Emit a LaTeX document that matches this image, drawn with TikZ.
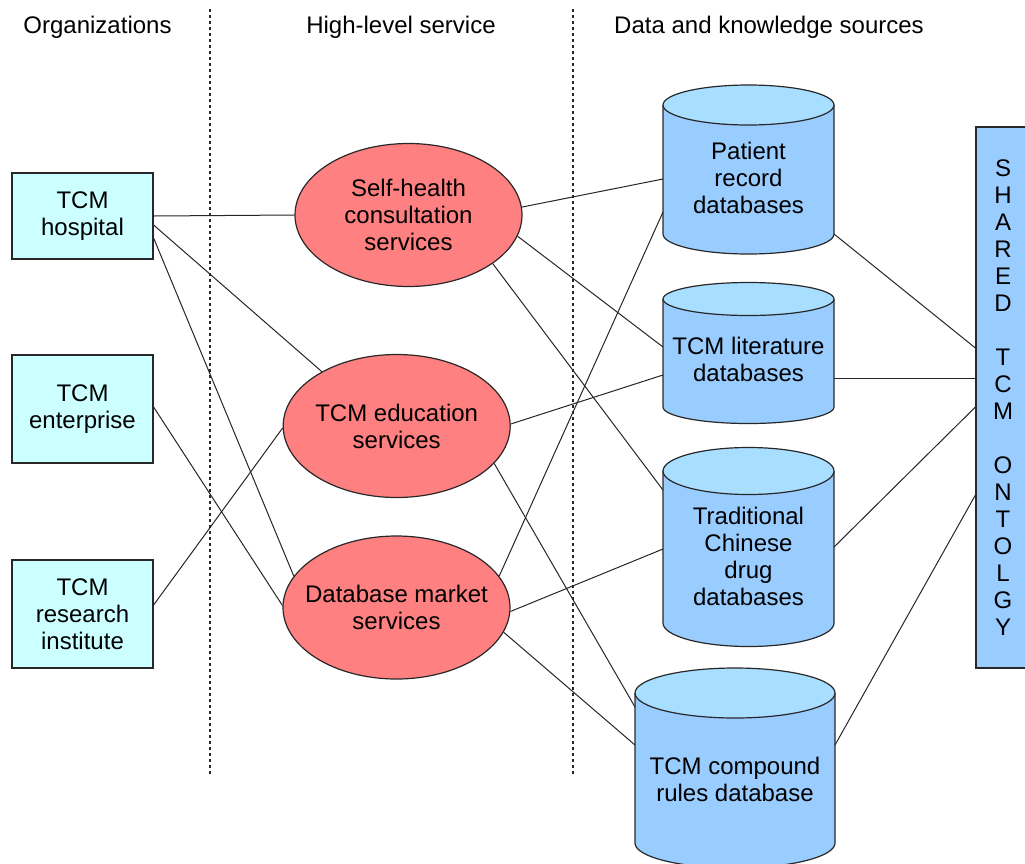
\documentclass[tikz,border=0pt]{standalone}
\usepackage{fontspec}
\setmainfont{Liberation Sans}
\usetikzlibrary{calc,shapes.geometric}
\definecolor{orgfill}{RGB}{204,255,255}
\definecolor{svcfill}{RGB}{255,128,128}
\definecolor{dbfill}{RGB}{153,204,255}
\definecolor{dbtop}{RGB}{168,222,255}
\definecolor{edgecol}{RGB}{40,40,40}
\newcommand\dbcyl[3]{%
  \path[fill=dbfill] (#1.north west) -- (#1.south west) arc[start angle=180,end angle=360,x radius=#2,y radius=#3] -- (#1.north east) -- cycle;
  \draw[dbline] (#1.north west) -- (#1.south west) arc[start angle=180,end angle=360,x radius=#2,y radius=#3] -- (#1.north east);
  \draw[dbline,fill=dbtop] (#1.north) ellipse [x radius=#2,y radius=#3];
}
\tikzset{
  txt/.style={font=\fontsize{24}{27}\selectfont, text=black, align=center},
  orgbox/.style={txt, rectangle, draw=edgecol, line width=1.2pt, fill=orgfill, minimum width=141, inner sep=0pt},
  svc/.style={txt, ellipse, draw=edgecol, line width=1.2pt, fill=svcfill, minimum width=227, minimum height=143, inner sep=-25pt},
  dbshape/.style={rectangle, draw=none, inner sep=0pt, outer sep=0pt},
  dbline/.style={draw=edgecol, line width=1.2pt},
  dbtext/.style={txt, inner sep=0pt},
  onto/.style={txt, rectangle, draw=edgecol, line width=1.2pt, fill=dbfill, minimum width=54, minimum height=541, inner sep=0pt},
  hdr/.style={txt, inner sep=0pt},
  link/.style={draw=black!85, line width=1pt},
  divider/.style={draw=edgecol, line width=1.2pt, dash pattern=on 2.5pt off 3.5pt}
}
\begin{document}
\begin{tikzpicture}[x=1pt,y=1pt]
\useasboundingbox (0,0) rectangle (1025,-863);
\clip (0,0) rectangle (1025,-863);

% headers
\node[hdr] (h1) at (97.5,-27) {Organizations};
\node[hdr] (h2) at (401,-27) {High-level service};
\node[hdr] (h3) at (769,-27) {Data and knowledge sources};

% dividers
\draw[divider] (210,-9) -- (210,-775);
\draw[divider] (573,-9) -- (573,-775);

% organizations
\node[orgbox, minimum height=86] (hosp) at (82.5,-216) {TCM\\hospital};
\node[orgbox, minimum height=108] (ent) at (82.5,-409) {TCM\\enterprise};
\node[orgbox, minimum height=108] (res) at (82.5,-614) {TCM\\research\\institute};

% services
\node[svc] (self) at (408.5,-215) {Self-health\\consultation\\services};
\node[svc] (edu) at (396.7,-426) {TCM education\\services};
\node[svc] (mkt) at (396.5,-607.5) {Database market\\services};

% databases
\node[dbshape, minimum width=171, minimum height=129] (pat) at (748.5,-169.5) {};
\dbcyl{pat}{85.5}{20}
\node[dbtext] (pat-t) at (748.5,-177.5) {Patient\\record\\databases};

\node[dbshape, minimum width=171, minimum height=108] (lit) at (748.5,-353) {};
\dbcyl{lit}{85.5}{16.5}
\node[dbtext] (lit-t) at (748.5,-359.5) {TCM literature\\databases};

\node[dbshape, minimum width=171, minimum height=152] (trad) at (748.5,-547) {};
\dbcyl{trad}{85.5}{23.5}
\node[dbtext] (trad-t) at (748.5,-556.5) {Traditional\\Chinese\\drug\\databases};

\node[dbshape, minimum width=200, minimum height=150] (comp) at (735,-768) {};
\dbcyl{comp}{100}{25}
\node[dbtext] (comp-t) at (735,-779.5) {TCM compound\\rules database};

% ontology bar
\node[onto] (ont) at (1003,-397.5) {S\\H\\A\\R\\E\\D\\[27pt]T\\C\\M\\[27pt]O\\N\\T\\O\\L\\G\\Y};

% organizations -> services
\draw[link] (hosp.east) -- (self.west);
\draw[link] ($(hosp.east)+(0,-9)$) -- (edu.144.6);
\draw[link] ($(hosp.east)+(0,-22)$) -- (mkt.163.1);
\draw[link] ($(ent.east)+(0,2)$) -- (mkt.179);
\draw[link] ($(res.east)+(0,9)$) -- (edu.181);

% services -> databases
\draw[link] (self.4.5) -- ($(pat.west)+(0,-9.5)$);
\draw[link] (self.349.3) -- ($(lit.west)+(0,6)$);
\draw[link] (self.330) -- ($(trad.west)+(0,57)$);
\draw[link] (edu.1.5) -- ($(lit.west)+(0,-22)$);
\draw[link] (edu.339.2) -- ($(comp.west)+(0,61)$);
\draw[link] (mkt.17.6) -- ($(pat.west)+(0,-42.5)$);
\draw[link] (mkt.358.7) -- ($(trad.west)+(0,-2)$);
\draw[link] (mkt.347.3) -- ($(comp.west)+(0,23)$);

% databases -> ontology
\draw[link] (pat.south east) -- ($(ont.west)+(0,49.5)$);
\draw[link] ($(lit.east)+(0,-25)$) -- ($(ont.west)+(0,19.5)$);
\draw[link] (trad.east) -- ($(ont.west)+(0,-9.5)$);
\draw[link] ($(comp.east)+(0,23)$) -- ($(ont.west)+(0,-97.5)$);
\end{tikzpicture}
\end{document}
